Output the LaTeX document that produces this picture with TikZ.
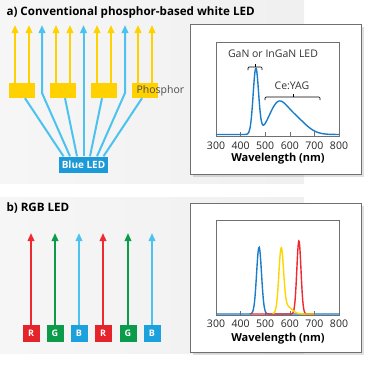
\documentclass[tikz,border=0pt]{standalone}
\usepackage{fontspec}
\setmainfont{Open Sans}
\usetikzlibrary{positioning, arrows.meta, calc}

\definecolor{phyellow}{HTML}{FFD100}
\definecolor{lblue}{HTML}{4CC3EF}
\definecolor{ledblue}{HTML}{1B9AD7}
\definecolor{specblue}{HTML}{1A7DCB}
\definecolor{specyellow}{HTML}{FFD500}
\definecolor{specred}{HTML}{EE2A30}
\definecolor{sqred}{HTML}{E5232A}
\definecolor{sqgreen}{HTML}{0C9B4A}
\definecolor{sqblue}{HTML}{1BA1DC}
\definecolor{frame}{HTML}{707070}

\begin{document}
\begin{tikzpicture}[x=1pt,y=-1pt,node distance=41pt,on grid,
  declare function={g(\x,\m,\s)=exp(max(-9,-0.5*((\x-\m)/\s)^2));
                    wx(\t)=216+(\t-300)*0.246;}]
\tikzset{panel/.style={left color=gray!7, right color=gray!12}}
\tikzset{chartbox/.style={fill=white, draw=frame, line width=0.8pt}}
\tikzset{phbox/.style={fill=phyellow, minimum width=26pt, minimum height=15pt, inner sep=0pt}}
\tikzset{uparrow/.style={line width=2pt, -{Triangle[width=6.5pt,length=8pt]}}}
\tikzset{bline/.style={draw=lblue, line width=2pt}}
\tikzset{sqbox/.style={minimum size=17pt, inner sep=0pt, text=white, font=\bfseries\small}}
\tikzset{tick/.style={font=\fontsize{10.5}{11}\selectfont, text=black!85}}
\tikzset{axlbl/.style={font=\bfseries\fontsize{11}{12}\selectfont}}
\tikzset{lbl/.style={font=\fontsize{10.5}{11}\selectfont, text=black!80}}
\useasboundingbox (0,0) rectangle (375,370);

% gray panels
\fill[panel] (0,0) rectangle (304,183);
\fill[panel] (0,197) rectangle (304,353);
\node[anchor=west, font=\bfseries\fontsize{11.6}{12}\selectfont] (titlea) at (3,12) {a) Conventional phosphor-based white LED};
\node[anchor=west, font=\bfseries\fontsize{11.6}{12}\selectfont] (titleb) at (3,208) {b) RGB LED};

% a) phosphor + blue LED
\coordinate (top) at (0,25);
\node[phbox] (ph1) at (22,90.5) {};
\node[phbox] (ph2) [right=of ph1] {};
\node[phbox] (ph3) [right=of ph2] {};
\node[phbox] (ph4) [right=of ph3] {};
\node[anchor=west, lbl, text=black!70] (phos) at (133,91) {Phosphor};
\node[fill=ledblue, text=white, font=\bfseries\fontsize{10}{11}\selectfont,
      minimum width=49pt, minimum height=16pt, inner sep=0pt] (led) at (83.5,164.5) {Blue LED};
\coordinate (b1) at (42,93);
\coordinate (b3) at (125,93);

\draw[uparrow, phyellow] ([xshift=-7pt]ph1.north) -- ([xshift=-7pt]ph1.north |- top);
\draw[uparrow, phyellow] ([xshift=7pt]ph1.north) -- ([xshift=7pt]ph1.north |- top);
\draw[uparrow, phyellow] ([xshift=-7pt]ph2.north) -- ([xshift=-7pt]ph2.north |- top);
\draw[uparrow, phyellow] ([xshift=7pt]ph2.north) -- ([xshift=7pt]ph2.north |- top);
\draw[uparrow, phyellow] ([xshift=-7pt]ph3.north) -- ([xshift=-7pt]ph3.north |- top);
\draw[uparrow, phyellow] ([xshift=7pt]ph3.north) -- ([xshift=7pt]ph3.north |- top);
\draw[uparrow, phyellow] ([xshift=-7pt]ph4.north) -- ([xshift=-7pt]ph4.north |- top);
\draw[uparrow, phyellow] ([xshift=7pt]ph4.north) -- ([xshift=7pt]ph4.north |- top);

\draw[bline] ([xshift=-20pt]led.north) -- ([xshift=3pt]ph1.south);
\draw[bline] ([xshift=-6.5pt]led.north) -- ([xshift=2pt]ph2.south);
\draw[bline] ([xshift=6.5pt]led.north) -- ([xshift=-2pt]ph3.south);
\draw[bline] ([xshift=20pt]led.north) -- ([xshift=-3pt]ph4.south);
\draw[uparrow, lblue] ([xshift=-13.5pt]led.north) -- (b1) -- (b1 |- top);
\draw[uparrow, lblue] (led.north) -- (led.north |- top);
\draw[uparrow, lblue] ([xshift=13.5pt]led.north) -- (b3) -- (b3 |- top);

% a) spectrum
\fill[black, opacity=0.12] (192.5,26.5) rectangle (363.5,176.5);
\draw[chartbox] (190,24) rectangle (361,174);
\draw[frame, line width=0.8pt] (216,42) rectangle (339,136);
\foreach \l [count=\i from 0] in {300,400,500,600,700,800}
  \node[tick] at ({216+\i*24.6},146) {\l};
\foreach \i in {1,...,4}
  \draw[frame, line width=0.6pt] ({216+\i*24.6},132) -- ({216+\i*24.6},136);
\node[axlbl] (wla) at (278,158.5) {Wavelength (nm)};
\draw[specblue, line width=1.4pt] plot[domain=300:800, samples=200, smooth]
  ({wx(\x)}, {134.5-65*g(\x,462,11)-24*g(\x,548,35)-18*g(\x,610,50)});
\node[lbl] (gan) at (273,54) {GaN or InGaN LED};
\node[lbl] (ceyag) at (292,86) {Ce:YAG};
\draw[line width=0.7pt, rounded corners=1pt] (248,70) -- (248,67) -- (262,67) -- (262,70);
\draw[line width=0.7pt] (255,67) -- (255,64);
\draw[line width=0.7pt, rounded corners=1pt] (265,100) -- (265,97) -- (320,97) -- (320,100);
\draw[line width=0.7pt] (293,97) -- (293,94);

% b) RGB LEDs
\coordinate (topb) at (0,233);
\node[sqbox, fill=sqred] (r1) at (31,333.5) {R};
\node[sqbox, fill=sqgreen] (g1) [right=24pt of r1] {G};
\node[sqbox, fill=sqblue] (bl1) [right=24pt of g1] {B};
\node[sqbox, fill=sqred] (r2) [right=24pt of bl1] {R};
\node[sqbox, fill=sqgreen] (g2) [right=25pt of r2] {G};
\node[sqbox, fill=sqblue] (bl2) [right=24pt of g2] {B};
\draw[uparrow, line width=1.8pt, specred] (r1) -- (r1 |- topb);
\draw[uparrow, line width=1.8pt, sqgreen] (g1) -- (g1 |- topb);
\draw[uparrow, line width=1.8pt, lblue] (bl1) -- (bl1 |- topb);
\draw[uparrow, line width=1.8pt, specred] (r2) -- (r2 |- topb);
\draw[uparrow, line width=1.8pt, sqgreen] (g2) -- (g2 |- topb);
\draw[uparrow, line width=1.8pt, lblue] (bl2) -- (bl2 |- topb);

% b) spectrum
\fill[black, opacity=0.12] (192.5,205.5) rectangle (363.5,354.5);
\draw[chartbox] (190,203) rectangle (361,352);
\draw[frame, line width=0.8pt] (216,220) rectangle (339,315);
\foreach \l [count=\i from 0] in {300,400,500,600,700,800}
  \node[tick] at ({216+\i*24.6},324) {\l};
\foreach \i in {1,...,4}
  \draw[frame, line width=0.6pt] ({216+\i*24.6},311) -- ({216+\i*24.6},315);
\node[axlbl] (wlb) at (278,338.5) {Wavelength (nm)};
\draw[specblue, line width=1.4pt] plot[domain=300:800, samples=200, smooth]
  ({wx(\x)}, {314-67*g(\x,475,10)});
\draw[specred, line width=1.4pt] plot[domain=440:700, samples=120, smooth]
  ({wx(\x)}, {314-73*g(\x,637,8.5)});
\draw[specyellow, line width=1.4pt] plot[domain=530:700, samples=120, smooth]
  ({wx(\x)}, {314-61*g(\x,565,9.5)-8*g(\x,585,22)});
\end{tikzpicture}
\end{document}
